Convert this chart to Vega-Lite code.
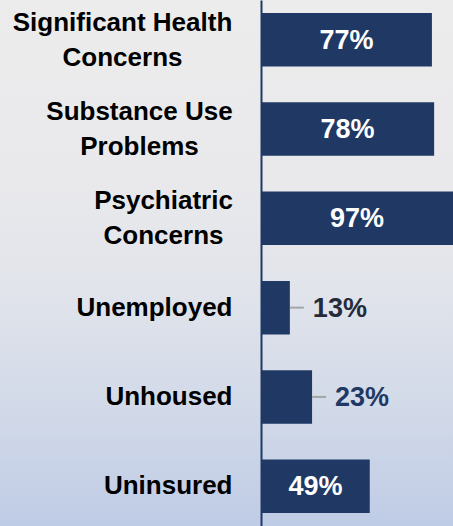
{
  "$schema": "https://vega.github.io/schema/vega-lite/v6.json",
  "width": 453,
  "height": 526,
  "autosize": "none",
  "padding": 0,
  "background": "#e6e8ee",
  "config": {
    "font": "Liberation Sans",
    "view": {
      "stroke": null,
      "fill": {
        "gradient": "linear",
        "x1": 0, "y1": 0, "x2": 0, "y2": 1,
        "stops": [
          {"offset": 0, "color": "#ececec"},
          {"offset": 0.35, "color": "#e9e9ec"},
          {"offset": 0.55, "color": "#e1e4eb"},
          {"offset": 0.8, "color": "#d0d8e8"},
          {"offset": 1, "color": "#bfcce6"}
        ]
      }
    }
  },
  "data": {
    "values": [
      {"category": "Significant Health Concerns", "value": 77},
      {"category": "Substance Use Problems", "value": 78},
      {"category": "Psychiatric Concerns", "value": 97},
      {"category": "Unemployed", "value": 13},
      {"category": "Unhoused", "value": 23},
      {"category": "Uninsured", "value": 49}
    ]
  },
  "transform": [{"calculate": "datum.value + '%'", "as": "label"}],
  "encoding": {
    "y": {
      "field": "category",
      "type": "nominal",
      "sort": null,
      "scale": {"paddingInner": 0.401, "paddingOuter": 0.1455},
      "axis": {
        "title": null,
        "orient": "left",
        "offset": -261,
        "ticks": false,
        "domainColor": "#1f3864",
        "domainWidth": 2,
        "labelFont": "Liberation Sans",
        "labelFontSize": 26,
        "labelFontWeight": "bold",
        "labelColor": "#000000",
        "labelLimit": 0,
        "labelLineHeight": 35,
        "labelExpr": "datum.label == 'Significant Health Concerns' ? ['Significant Health', 'Concerns'] : datum.label == 'Substance Use Problems' ? ['Substance Use', 'Problems'] : datum.label == 'Psychiatric Concerns' ? ['Psychiatric', 'Concerns'] : datum.label",
        "labelAlign": {
          "condition": {"test": "indexof(['Significant Health Concerns','Substance Use Problems','Psychiatric Concerns'], datum.value) >= 0", "value": "center"},
          "value": "right"
        },
        "labelOffset": {
          "condition": {"test": "indexof(['Significant Health Concerns','Substance Use Problems','Psychiatric Concerns'], datum.value) >= 0", "value": -17},
          "value": 0
        },
        "labelPadding": {
          "condition": [
            {"test": "datum.value == 'Significant Health Concerns'", "value": 139},
            {"test": "datum.value == 'Substance Use Problems'", "value": 122},
            {"test": "datum.value == 'Psychiatric Concerns'", "value": 98}
          ],
          "value": 29
        }
      }
    }
  },
  "layer": [
    {
      "mark": {"type": "bar", "color": "#1f3864", "clip": true},
      "encoding": {
        "x": {"field": "value", "type": "quantitative", "scale": {"domain": [-117.6, 86.5], "nice": false, "zero": false}, "axis": null},
        "x2": {"datum": 0}
      }
    },
    {
      "transform": [
        {"filter": "datum.value >= 40"},
        {"calculate": "min(datum.value, 86.5) / 2", "as": "mid"}
      ],
      "mark": {"type": "text", "color": "#ffffff", "fontSize": 27, "fontWeight": "bold", "align": "center", "baseline": "middle", "dy": 1},
      "encoding": {
        "x": {"field": "mid", "type": "quantitative"},
        "text": {"field": "label"}
      }
    },
    {
      "transform": [{"filter": "datum.value < 40"}],
      "mark": {"type": "rule", "color": "#a6a6a6", "strokeWidth": 2, "x2Offset": 14},
      "encoding": {
        "x": {"field": "value", "type": "quantitative"},
        "x2": {"field": "value"}
      }
    },
    {
      "transform": [{"filter": "datum.value < 40"}],
      "mark": {"type": "text", "fontSize": 27, "fontWeight": "bold", "align": "left", "baseline": "middle", "dx": 23, "dy": 1},
      "encoding": {
        "x": {"field": "value", "type": "quantitative"},
        "text": {"field": "label"},
        "color": {"condition": {"test": "datum.value == 13", "value": "#262b3a"}, "value": "#1f3864"}
      }
    }
  ]
}
